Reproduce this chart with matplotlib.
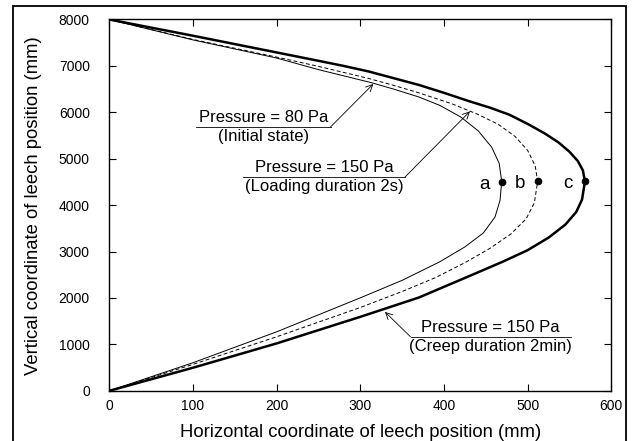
import matplotlib
matplotlib.use('Agg')
import matplotlib.pyplot as plt
from matplotlib.patches import Rectangle

plt.rcParams['font.family'] = ['Liberation Sans', 'DejaVu Sans']

# leech shapes (x in mm, y in mm), from the foot to the head
# a: 80 Pa initial state (thin solid)
x_a = [0, 100, 200, 300, 350, 395, 425, 447, 461, 467, 469, 466, 457, 441, 420, 395, 370, 340, 313, 250, 200, 100, 0]
y_a = [0, 605, 1271, 2003, 2380, 2780, 3100, 3400, 3744, 4103, 4512, 4900, 5250, 5600, 5900, 6150, 6330, 6500, 6640, 6920, 7170, 7560, 8000]
# b: 150 Pa loading 2s (dashed)
x_b = [0, 100, 200, 300, 350, 390, 425, 455, 480, 498, 508, 512, 509, 500, 485, 465, 440, 410, 370, 340, 310, 250, 200, 100, 0]
y_b = [0, 570, 1164, 1795, 2140, 2440, 2760, 3070, 3380, 3700, 4050, 4512, 4850, 5180, 5480, 5740, 5960, 6180, 6420, 6580, 6730, 6990, 7190, 7570, 8000]
# c: 150 Pa creep 2min (thick)
x_c = [0, 100, 200, 300, 370, 430, 470, 500, 525, 545, 558, 565, 568.5, 566, 560, 550, 537, 520, 500, 478, 455, 430, 400, 370, 340, 310, 280, 250, 200, 100, 0]
y_c = [0, 497, 1021, 1594, 2010, 2470, 2780, 3030, 3300, 3580, 3850, 4120, 4512, 4750, 4950, 5150, 5350, 5550, 5750, 5950, 6100, 6240, 6420, 6590, 6735, 6880, 7000, 7110, 7290, 7650, 8000]

# marked points at mid height
pt_x = [469.7, 512.4, 568.6]
pt_y = [4505, 4512, 4512]
pt_labels = ['a', 'b', 'c']

fig = plt.figure(figsize=(6.35, 4.41), dpi=100)
ax = fig.add_axes([0.1721, 0.1138, 0.7906, 0.8420])

ax.plot(x_a, y_a, color='black', lw=0.7)
ax.plot(x_b, y_b, color='black', lw=0.7, ls=(0, (4, 2.5)))
ax.plot(x_c, y_c, color='black', lw=1.8)
ax.plot(pt_x, pt_y, 'o', color='black', ms=4.5)
for x, y, s in zip(pt_x, pt_y, pt_labels):
    ax.text(x - 15, y - 50, s, fontsize=13.5, ha='right', va='center')

# labels with underline and leader arrow
notes = [
    ('Pressure = 80 Pa', '(Initial state)', 104, 264.6, 5688, 315.5, 6610, 'right'),
    ('Pressure = 150 Pa', '(Loading duration 2s)', 159.8, 353.4, 4605, 431, 6020, 'right'),
    ('Pressure = 150 Pa', '(Creep duration 2min)', 360, 551.5, 1164, 329.5, 1700, 'left'),
]
for top, bottom, x0, x1, yl, xt, yt, side in notes:
    ax.plot([x0, x1], [yl, yl], color='black', lw=0.6)
    xm = (x0 + x1) / 2
    ax.text(xm, yl + 110, top, fontsize=12, ha='center', va='baseline')
    ax.text(xm, yl - 310, bottom, fontsize=12, ha='center', va='baseline')
    xs = x1 if side == 'right' else x0
    ax.annotate('', xy=(xt, yt), xytext=(xs, yl),
                arrowprops=dict(arrowstyle='->', lw=0.6, color='black',
                                mutation_scale=12, shrinkA=0, shrinkB=0))

ax.set_xlim(0, 600)
ax.set_ylim(0, 8000)
ax.set_xticks(range(0, 601, 100))
ax.set_yticks(range(0, 8001, 1000))
ax.tick_params(direction='in', top=True, right=True, length=5, width=0.8,
               labelsize=10)
ax.tick_params(axis='y', pad=14)
ax.tick_params(axis='x', pad=6)
for sp in ax.spines.values():
    sp.set_linewidth(1.0)
ax.set_xlabel('Horizontal coordinate of leech position (mm)', fontsize=13.3, labelpad=8)
ax.set_ylabel('Vertical coordinate of leech position (mm)', fontsize=13.3, labelpad=12)

# outer frame
fig.patches.append(Rectangle((13 / 635, -0.02), (626 - 13) / 635, 1.02 - 6 / 441,
                             transform=fig.transFigure, fill=False,
                             edgecolor='black', lw=1.3))

fig.savefig('out.png', dpi=100)
